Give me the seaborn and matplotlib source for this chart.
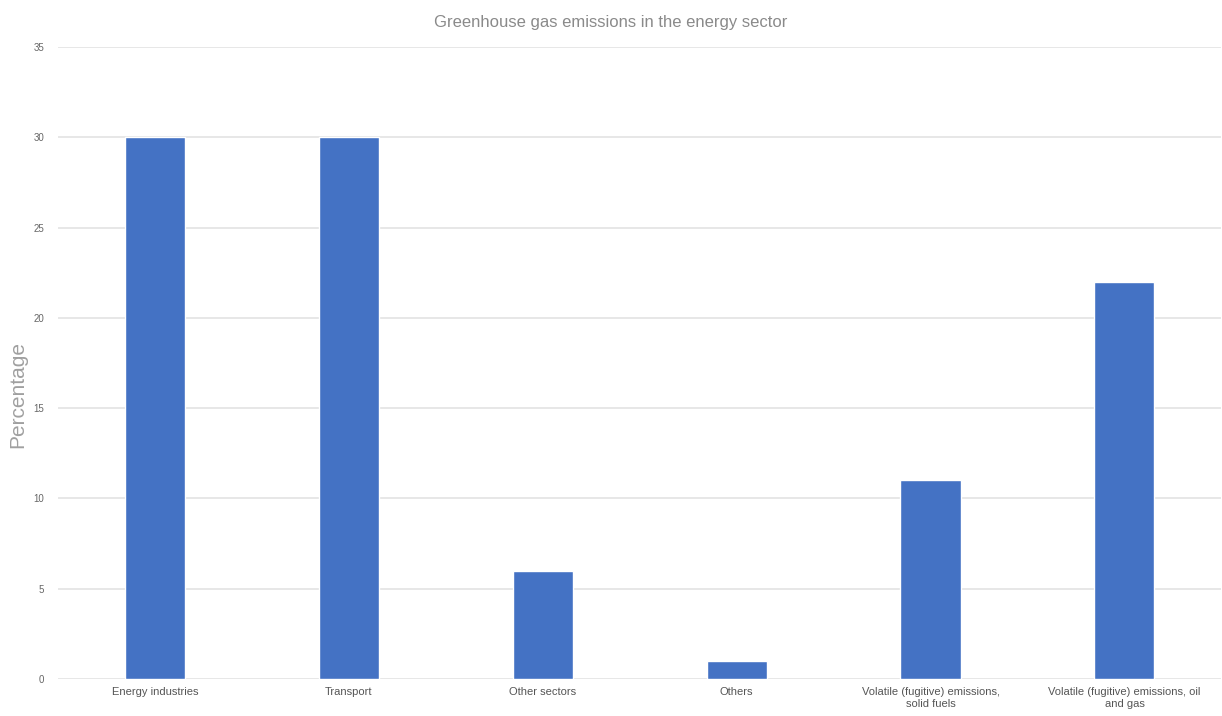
import matplotlib
matplotlib.use("Agg")
import matplotlib.pyplot as plt
import pandas as pd
import seaborn as sns

categories = [
    "Energy industries",
    "Transport",
    "Other sectors",
    "Others",
    "Volatile (fugitive) emissions,\nsolid fuels",
    "Volatile (fugitive) emissions, oil\nand gas",
]
percentages = [30, 30, 6, 1, 11, 22]
y_ticks = [0, 5, 10, 15, 20, 25, 30, 35]

df = pd.DataFrame({"sector": categories, "pct": percentages})

sns.set_style("white")
plt.rcParams["font.family"] = ["Liberation Sans", "DejaVu Sans"]

fig = plt.figure(figsize=(12.22, 7.16), dpi=100)
ax = fig.add_axes([0.0475, 0.0517, 0.952, 0.8825])

sns.barplot(data=df, x="sector", y="pct", color="#4472C4", width=0.31,
            saturation=1, ax=ax, zorder=3)

ax.set_ylim(0, 35)
ax.set_yticks(y_ticks)
ax.set_xlim(-0.5, len(categories) - 0.5)
ax.yaxis.grid(True, color="#e3e3e3", linewidth=1.2, zorder=0)
ax.set_axisbelow(True)
for s in ax.spines.values():
    s.set_visible(False)

ax.tick_params(axis="y", length=0, labelsize=7, labelcolor="#666666", pad=10)
ax.tick_params(axis="x", length=0, labelsize=8, labelcolor="#555555", pad=6)

ax.set_xlabel("")
ax.set_ylabel("")
fig.text(18 / 1222, 1 - 395 / 716, "Percentage", rotation=90,
         ha="center", va="center", fontsize=15, color="#a0a0a0")
fig.text(0.5, 0.969, "Greenhouse gas emissions in the energy sector",
         ha="center", va="center", fontsize=12, color="#8a8a8a")

fig.savefig("out.png", dpi=100)
